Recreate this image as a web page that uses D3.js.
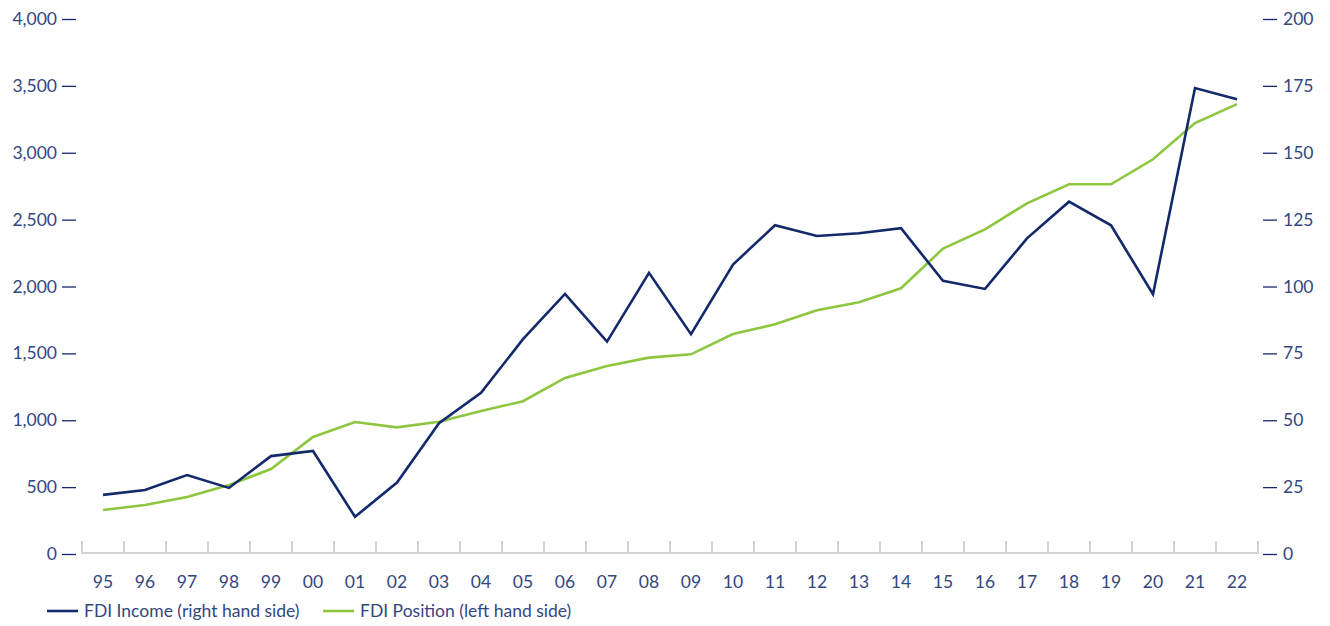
<!DOCTYPE html>
<html>
<head>
<meta charset="utf-8">
<script src="https://cdn.jsdelivr.net/npm/d3@7"></script>
<style>
  html, body { margin: 0; padding: 0; background: #fff; }
  svg { display: block; font-family: Lato, "Noto Sans", sans-serif; }
</style>
</head>
<body>
<svg id="chart" width="1330" height="626"></svg>
<script>
// Year labels (two-digit) along the bottom axis
const years = ["95","96","97","98","99","00","01","02","03","04","05","06","07","08","09",
               "10","11","12","13","14","15","16","17","18","19","20","21","22"];

// FDI income, plotted against the right-hand axis
const fdiIncome = [22.1, 23.9, 29.5, 24.7, 36.6, 38.5, 13.9, 26.7, 48.9, 60.3, 80.3, 97.2, 79.4, 105.1,
                   82.2, 108.2, 122.9, 118.9, 119.9, 121.8, 102.1, 99.1, 118.0, 131.7, 122.9, 97.1, 174.2, 170.0];

// FDI position, plotted against the left-hand axis
const fdiPosition = [329, 366, 426, 516, 635, 875, 987, 947, 989, 1069, 1142, 1316, 1406, 1468,
                     1493, 1645, 1717, 1822, 1882, 1987, 2283, 2427, 2622, 2764, 2764, 2951, 3222, 3364];

// Tick values for both vertical axes
const leftTicks = [0, 500, 1000, 1500, 2000, 2500, 3000, 3500, 4000];
const rightTicks = [0, 25, 50, 75, 100, 125, 150, 175, 200];

const navy = "#13296b";
const green = "#8dc63f";
const textColor = "#33477f";
const fontSize = "17.5px";

const svg = d3.select("#chart");

const x = d3.scaleBand().domain(years).range([82, 1258]);
const yLeft = d3.scaleLinear().domain([0, 4000]).range([554, 19]);
const yRight = d3.scaleLinear().domain([0, 200]).range([554, 19]);

// Left axis: value labels followed by a short dash
const leftAxis = d3.axisLeft(yLeft).tickValues(leftTicks)
  .tickFormat(d3.format(",")).tickSize(0).tickPadding(0);
const gl = svg.append("g").attr("transform", "translate(76,0)").call(leftAxis);
gl.select(".domain").remove();
gl.selectAll(".tick line").attr("x1", -14).attr("x2", 0)
  .attr("stroke", navy).attr("stroke-width", 1.3);
gl.selectAll(".tick text").attr("x", -19).attr("fill", textColor)
  .style("font-size", fontSize).style("font-family", "Lato, 'Noto Sans', sans-serif");

// Right axis: a short dash followed by value labels
const rightAxis = d3.axisRight(yRight).tickValues(rightTicks).tickSize(0).tickPadding(0);
const gr = svg.append("g").attr("transform", "translate(1263,0)").call(rightAxis);
gr.select(".domain").remove();
gr.selectAll(".tick line").attr("x1", 0).attr("x2", 14)
  .attr("stroke", navy).attr("stroke-width", 1.3);
gr.selectAll(".tick text").attr("x", 20).attr("fill", textColor)
  .style("font-size", fontSize).style("font-family", "Lato, 'Noto Sans', sans-serif");

// Bottom axis: grey baseline with upward ticks at band edges
const gx = svg.append("g");
gx.append("line")
  .attr("x1", x.range()[0]).attr("x2", x.range()[1])
  .attr("y1", 553).attr("y2", 553)
  .attr("stroke", "#d3d3d3").attr("stroke-width", 2);
const edges = years.map(d => x(d)).concat([x.range()[1]]);
gx.selectAll("line.edge").data(edges).join("line").attr("class", "edge")
  .attr("x1", d => d).attr("x2", d => d)
  .attr("y1", 541).attr("y2", 554)
  .attr("stroke", "#d3d3d3").attr("stroke-width", 2);
gx.selectAll("text").data(years).join("text")
  .attr("x", d => x(d) + x.bandwidth() / 2)
  .attr("y", 588)
  .attr("text-anchor", "middle")
  .attr("fill", textColor)
  .style("font-size", fontSize)
  .text(d => d);

const cx = (d, i) => x(years[i]) + x.bandwidth() / 2;

// FDI position line (left scale)
svg.append("path")
  .datum(fdiPosition)
  .attr("fill", "none")
  .attr("stroke", green)
  .attr("stroke-width", 2.6)
  .attr("stroke-linejoin", "miter")
  .attr("d", d3.line().x(cx).y(d => yLeft(d)));

// FDI income line (right scale)
svg.append("path")
  .datum(fdiIncome)
  .attr("fill", "none")
  .attr("stroke", navy)
  .attr("stroke-width", 2.6)
  .attr("stroke-linejoin", "miter")
  .attr("d", d3.line().x(cx).y(d => yRight(d)));

// Legend
const legend = [
  { label: "FDI Income (right hand side)", color: navy, x: 47 },
  { label: "FDI Position (left hand side)", color: green, x: 323 }
];
const lg = svg.append("g").selectAll("g").data(legend).join("g")
  .attr("transform", d => `translate(${d.x},611)`);
lg.append("line").attr("x1", 0).attr("x2", 31).attr("y1", 0).attr("y2", 0)
  .attr("stroke", d => d.color).attr("stroke-width", 2.6);
lg.append("text").attr("x", 37).attr("y", 6)
  .attr("fill", textColor).style("font-size", fontSize)
  .text(d => d.label);
</script>
</body>
</html>
